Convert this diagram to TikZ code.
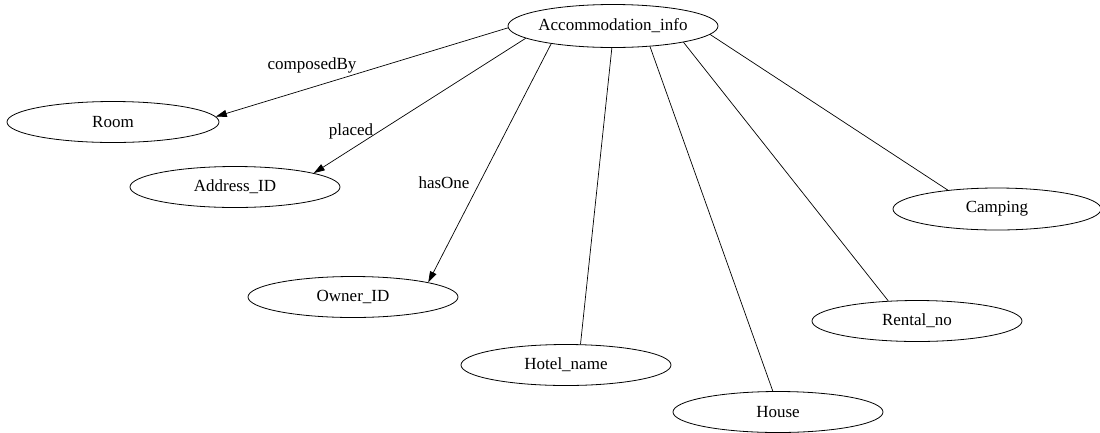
\documentclass[tikz,border=0pt]{standalone}
\usepackage{fontspec}
\setmainfont{Liberation Serif}
\usetikzlibrary{shapes.geometric,arrows.meta}
\tikzset{
  ent/.style={ellipse, draw, line width=0.8pt, minimum width=210pt, minimum height=41pt, inner sep=0pt},
  rel/.style={line width=0.7pt},
  arr/.style={rel, -{Triangle[length=11pt,width=7pt]}},
  lbl/.style={inner sep=0pt},
}
\begin{document}
\begin{tikzpicture}[x=1pt,y=-1pt,font=\fontsize{17}{20}\selectfont]
\useasboundingbox (0,0) rectangle (1100,432);
\node[ent, minimum height=43pt] (acc) at (613,26) {\makebox[0pt]{Accommodation\_info}};
\node[ent, minimum width=212pt] (room) at (113,122) {\makebox[0pt]{Room}};
\node[ent] (addr) at (235,187) {\makebox[0pt]{Address\_ID}};
\node[ent] (owner) at (353,297) {\makebox[0pt]{Owner\_ID}};
\node[ent] (hotel) at (566,365) {\makebox[0pt]{Hotel\_name}};
\node[ent] (house) at (778,412) {\makebox[0pt]{House}};
\node[ent] (rental) at (917,321) {\makebox[0pt]{Rental\_no}};
\node[ent, minimum width=208pt, minimum height=42pt] (camp) at (997,209) {\makebox[0pt]{Camping}};

\draw[arr] (acc.181) -- (room.3);
\draw[arr] (acc.188) -- (addr.10);
\draw[arr] (acc.196) -- (owner.11);
\draw[rel] (acc.267) -- (hotel.55);
\draw[rel] (acc.331) -- (house.104);
\draw[rel] (acc.347) -- (rental.145);
\draw[rel] (acc.355) -- (camp.159);

\node[lbl] (l1) at (312,65) {composedBy};
\node[lbl] (l2) at (351,131) {placed};
\node[lbl] (l3) at (444,183) {hasOne};
\end{tikzpicture}
\end{document}
